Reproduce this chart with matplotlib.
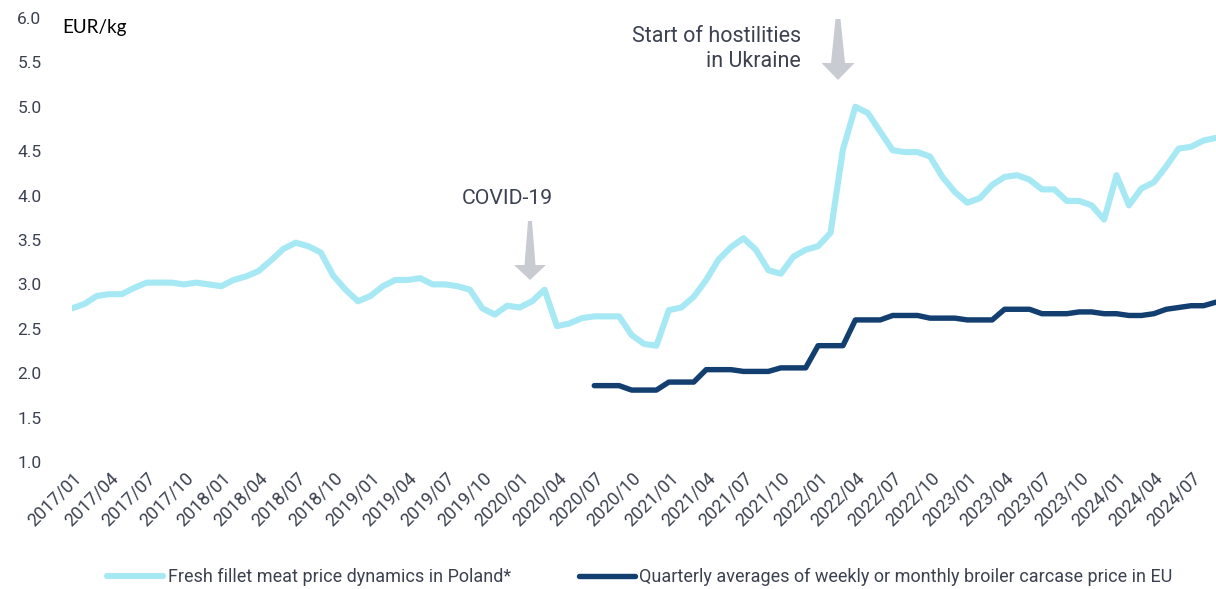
import matplotlib
matplotlib.use('Agg')
import matplotlib.pyplot as plt
from matplotlib.patches import Polygon
import numpy as np
import pandas as pd

plt.rcParams['font.family'] = ['Roboto', 'DejaVu Sans']

# monthly, 2017/01 .. 2024/09
months = pd.date_range('2017-01-01', periods=93, freq='MS')
month_labels = [m.strftime('%Y/%m') for m in months]

fillet_pl = [2.73, 2.78, 2.87, 2.89, 2.89, 2.96, 3.02, 3.02, 3.02, 3.00, 3.02, 3.00,
             2.98, 3.05, 3.09, 3.15, 3.27, 3.40, 3.47, 3.43, 3.36, 3.10, 2.94, 2.81,
             2.87, 2.98, 3.05, 3.05, 3.07, 3.00, 3.00, 2.98, 2.94, 2.73, 2.66, 2.76,
             2.74, 2.81, 2.94, 2.53, 2.56, 2.62, 2.64, 2.64, 2.64, 2.43, 2.33, 2.31,
             2.71, 2.74, 2.86, 3.05, 3.28, 3.42, 3.52, 3.39, 3.16, 3.12, 3.31, 3.39,
             3.43, 3.58, 4.52, 5.00, 4.93, 4.72, 4.51, 4.49, 4.49, 4.44, 4.21, 4.04,
             3.92, 3.97, 4.12, 4.21, 4.23, 4.18, 4.07, 4.07, 3.94, 3.94, 3.89, 3.73,
             4.23, 3.89, 4.08, 4.15, 4.33, 4.53, 4.55, 4.62, 4.65]

# EU broiler carcase price, starts 2020/07
eu_start = 42
broiler_eu = [1.86, 1.86, 1.86, 1.81, 1.81, 1.81, 1.90, 1.90, 1.90, 2.04, 2.04, 2.04,
              2.02, 2.02, 2.02, 2.06, 2.06, 2.06, 2.31, 2.31, 2.31, 2.60, 2.60, 2.60,
              2.65, 2.65, 2.65, 2.62, 2.62, 2.62, 2.60, 2.60, 2.60, 2.72, 2.72, 2.72,
              2.67, 2.67, 2.67, 2.69, 2.69, 2.67, 2.67, 2.65, 2.65, 2.67, 2.72, 2.74,
              2.76, 2.76, 2.80]

W, H = 1216, 589
text_col = '#3c4150'
arrow_col = '#c8cbd1'

x = np.arange(len(months))
x_eu = np.arange(eu_start, eu_start + len(broiler_eu))

fig = plt.figure(figsize=(W / 100, H / 100), dpi=100)
ax = fig.add_axes([72 / W, 1 - 462 / H, 1 - 72 / W, (462 - 18) / H])

ax.plot(x, fillet_pl, color='#a6e8f3', lw=4.4, solid_capstyle='round',
        solid_joinstyle='round', label='Fresh fillet meat price dynamics in Poland*')
ax.plot(x_eu, broiler_eu, color='#133f70', lw=3.9, solid_capstyle='round',
        solid_joinstyle='round',
        label='Quarterly averages of weekly or monthly broiler carcase price in EU')

ax.set_xlim(0, 92)
ax.set_ylim(1, 6)
for s in ax.spines.values():
    s.set_visible(False)

ax.set_yticks(np.arange(1, 6.01, 0.5))
ax.set_yticklabels([f'{v:.1f}' for v in np.arange(1, 6.01, 0.5)])
ax.tick_params(axis='y', length=0, pad=22, labelsize=12.5, labelcolor=text_col)

ax.set_xticks(x[::3])
ax.set_xticklabels(month_labels[::3], rotation=45, ha='right', va='top',
                   rotation_mode='anchor')
ax.tick_params(axis='x', length=0, pad=5, labelsize=13, labelcolor=text_col)

fig.text(62 / W, 1 - 28 / H, 'EUR/kg', family='Lato', fontsize=13.6,
         color='black', va='center', ha='left')


def px(xp, yp):
    return (xp / W, 1 - yp / H)


def down_arrow(cx, top, tip, top_w, shaft_w, head_w, head_len):
    base = tip - head_len
    pts = [px(cx - top_w / 2, top), px(cx + top_w / 2, top),
           px(cx + shaft_w / 2, base), px(cx + head_w / 2, base),
           px(cx, tip), px(cx - head_w / 2, base), px(cx - shaft_w / 2, base)]
    fig.patches.append(Polygon(pts, closed=True, transform=fig.transFigure,
                               facecolor=arrow_col, edgecolor='none'))


fig.text(507 / W, 1 - 198 / H, 'COVID-19', fontsize=15.3, color=text_col,
         ha='center', va='center')
down_arrow(530, 221, 280, 4, 11, 32, 15)

fig.text(801 / W, 1 - 49 / H, 'Start of hostilities\nin Ukraine', fontsize=15.5,
         color=text_col, ha='right', va='center', linespacing=1.2)
down_arrow(838, 19, 80, 5, 14, 33, 17)

fig.legend(loc='center', bbox_to_anchor=(640 / W, 1 - 577 / H), ncol=2,
           frameon=False, fontsize=13, labelcolor=text_col, handlelength=3.1,
           handletextpad=0.23, columnspacing=3.8)

fig.savefig('out.png', dpi=100)
